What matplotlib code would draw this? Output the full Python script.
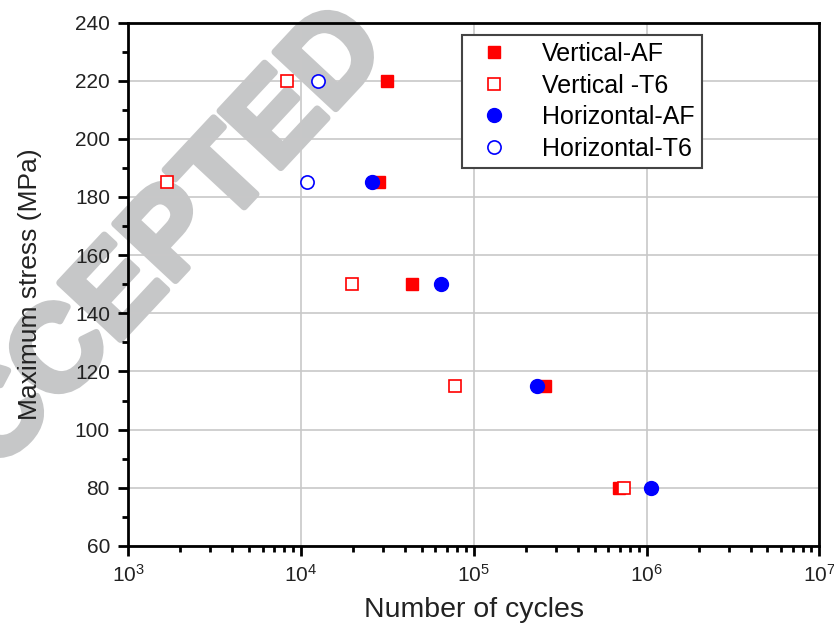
import numpy as np
import matplotlib
matplotlib.use("Agg")
import matplotlib.pyplot as plt
import matplotlib.patheffects as pe
from matplotlib.ticker import LogLocator, MultipleLocator

plt.rcParams['font.family'] = ['Liberation Sans', 'DejaVu Sans']
plt.rcParams['mathtext.fontset'] = 'custom'
plt.rcParams['mathtext.rm'] = 'Liberation Sans'

# cycles to failure at each maximum stress
vert_af_cycles = [31400, 28200, 43800, 257000, 689000]
vert_af_stress = [220, 185, 150, 115, 80]

vert_t6_cycles = [8300, 1680, 19700, 77600, 736000]
vert_t6_stress = [220, 185, 150, 115, 80]

hor_af_cycles = [25700, 64500, 231000, 1054000]
hor_af_stress = [185, 150, 115, 80]

hor_t6_cycles = [12500, 10800]
hor_t6_stress = [220, 185]

labels = ['Vertical-AF', 'Vertical -T6', 'Horizontal-AF', 'Horizontal-T6']

fig = plt.figure(figsize=(8.34, 6.26), dpi=100)
ax = fig.add_axes([0.1535, 0.128, 0.829, 0.836])

ax.plot(vert_af_cycles, vert_af_stress, 's', color='red', ms=8.5, label=labels[0], zorder=3)
ax.plot(vert_t6_cycles, vert_t6_stress, 's', mfc='white', mec='red', mew=1.2, ms=8.5,
        label=labels[1], zorder=3)
ax.plot(hor_af_cycles, hor_af_stress, 'o', color='blue', ms=10, label=labels[2], zorder=3)
ax.plot(hor_t6_cycles, hor_t6_stress, 'o', mfc='white', mec='blue', mew=1.2, ms=9.5,
        label=labels[3], zorder=3)

ax.set_xscale('log')
ax.set_xlim(1e3, 1e7)
ax.set_ylim(60, 240)
ax.yaxis.set_major_locator(MultipleLocator(20))
ax.yaxis.set_minor_locator(MultipleLocator(10))
ax.xaxis.set_major_locator(LogLocator(base=10, numticks=10))
ax.xaxis.set_minor_locator(LogLocator(base=10, subs=np.arange(2, 10), numticks=20))

ax.grid(True, which='major', color='#c8c8c8', lw=1.2, zorder=0)
ax.tick_params(which='major', direction='out', length=7, width=2, labelsize=15, pad=6,
               labelcolor='#222222')
ax.tick_params(which='minor', direction='out', length=4, width=2)
for s in ax.spines.values():
    s.set_linewidth(2)

ax.set_xlabel('Number of cycles', fontsize=20.5, color='#222222', labelpad=8)
ax.set_ylabel('Maximum stress (MPa)', fontsize=19, color='#222222', labelpad=24)

leg = ax.legend(loc='upper left', bbox_to_anchor=(0.483, 0.977), fontsize=18,
                frameon=True, fancybox=False, edgecolor='#444444', framealpha=1,
                handletextpad=0.9, borderpad=0.3, labelspacing=0.3, borderaxespad=0)
leg.get_frame().set_linewidth(1.5)

# faint "ACCEPTED" watermark across the upper-left, behind everything else
wm = ax.text(0.168, 0.565, 'ACCEPTED', transform=fig.transFigure, fontsize=87,
             fontweight='bold', color='#c6c7c8', rotation=47, ha='center', va='center',
             zorder=-1, clip_on=False)
wm.set_path_effects([pe.withStroke(linewidth=5, foreground='#c6c7c8')])
ax.set_facecolor('none')

fig.savefig('out.png', dpi=100)
